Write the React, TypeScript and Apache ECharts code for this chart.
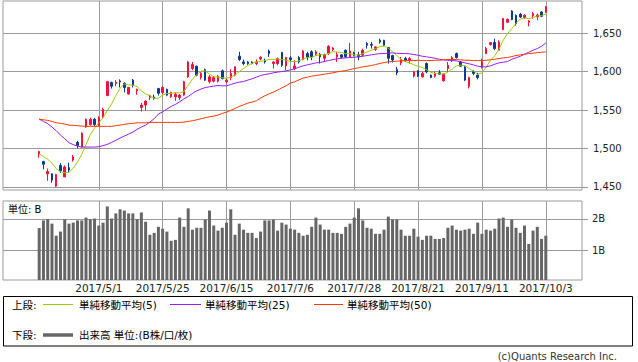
import React, { useEffect, useRef } from "react";
import * as echarts from "echarts";

const dates = [
  "2017/4/11","2017/4/12","2017/4/13","2017/4/14","2017/4/17","2017/4/18","2017/4/19","2017/4/20","2017/4/21","2017/4/24",
  "2017/4/25","2017/4/26","2017/4/27","2017/4/28","2017/5/1","2017/5/2","2017/5/8","2017/5/9","2017/5/10","2017/5/11",
  "2017/5/12","2017/5/15","2017/5/16","2017/5/17","2017/5/18","2017/5/19","2017/5/22","2017/5/23","2017/5/24","2017/5/25",
  "2017/5/26","2017/5/29","2017/5/30","2017/5/31","2017/6/1","2017/6/2","2017/6/5","2017/6/6","2017/6/7","2017/6/8",
  "2017/6/9","2017/6/12","2017/6/13","2017/6/14","2017/6/15","2017/6/16","2017/6/19","2017/6/20","2017/6/21","2017/6/22",
  "2017/6/23","2017/6/26","2017/6/27","2017/6/28","2017/6/29","2017/6/30","2017/7/3","2017/7/4","2017/7/5","2017/7/6",
  "2017/7/7","2017/7/10","2017/7/11","2017/7/12","2017/7/13","2017/7/14","2017/7/18","2017/7/19","2017/7/20","2017/7/21",
  "2017/7/24","2017/7/25","2017/7/26","2017/7/27","2017/7/28","2017/7/31","2017/8/1","2017/8/2","2017/8/3","2017/8/4",
  "2017/8/7","2017/8/8","2017/8/9","2017/8/10","2017/8/14","2017/8/15","2017/8/16","2017/8/17","2017/8/18","2017/8/21",
  "2017/8/22","2017/8/23","2017/8/24","2017/8/25","2017/8/28","2017/8/29","2017/8/30","2017/8/31","2017/9/1","2017/9/4",
  "2017/9/5","2017/9/6","2017/9/7","2017/9/8","2017/9/11","2017/9/12","2017/9/13","2017/9/14","2017/9/15","2017/9/19",
  "2017/9/20","2017/9/21","2017/9/22","2017/9/25","2017/9/26","2017/9/27","2017/9/28","2017/9/29","2017/10/2","2017/10/3",
];

const opens = [
  1493,1483,1467,1467,1451,1478,1463,1475,1485,1508,
  1502,1528,1531,1538,1530,1541,1569,1586,1584.5,1588,
  1585,1571,1589,1575,1553.5,1556.5,1566.5,1567,1578,1573,
  1577,1567.3,1567.3,1566.4,1569.5,1593.3,1604.1,1607.1,1592.4,1602.8,
  1586.9,1587.7,1587.7,1601.1,1586.9,1592.4,1595.5,1620.2,1612.7,1612.7,
  1612.5,1610.6,1616.6,1614.9,1627,1610.6,1610.6,1624.9,1607.4,1618,
  1604.1,1618.4,1615.8,1623.6,1625.9,1622.8,1622.8,1617.5,1623.6,1628.8,
  1619.3,1621.9,1627.9,1619.3,1624.5,1621.9,1621.5,1636.6,1635.5,1628.8,
  1640.9,1640.9,1631.4,1621,1602.8,1611.5,1617.1,1614.9,1594.2,1601.1,
  1593.3,1610.6,1595.5,1594.2,1598.5,1588.1,1604.1,1614.9,1623.6,1612.7,
  1606.3,1581.2,1599.8,1595.5,1606.3,1623.6,1635.3,1637.9,1627.9,1654.8,
  1664.3,1679,1673.4,1674.7,1670.3,1664.3,1672.9,1671.2,1677.7,1677.7,
];

const closes = [
  1496,1479.5,1470,1459,1466,1471,1476,1472,1489,1504,
  1520,1538,1538,1531,1540,1551,1587,1581,1586.5,1586.5,
  1579.5,1579.5,1582.5,1577,1556.5,1561.7,1568.6,1565.5,1572,1579.5,
  1569.5,1572.9,1570.7,1569.5,1586.9,1612.7,1609.3,1595.5,1597.6,1589,
  1593.3,1592.4,1594.2,1591.1,1589,1597.6,1606.3,1615.8,1610.6,1610.6,
  1610.6,1612.7,1618.4,1612.7,1623.6,1612.7,1617.1,1608.4,1618.4,1615.8,
  1607.4,1612.7,1627,1618.4,1619.3,1625.9,1619.3,1621.9,1633.1,1630.9,
  1622.3,1618.8,1619.3,1627,1621.5,1619.3,1627.9,1634.4,1634.4,1632.2,
  1638.7,1634.4,1617.5,1615.3,1598.5,1615.8,1614.9,1617.1,1599.8,1594.2,
  1597.6,1599.8,1592.4,1597.6,1596.8,1596.8,1608.4,1618.4,1618.4,1607.1,
  1589,1592.4,1597.6,1592.4,1612.7,1630.1,1637.9,1630.1,1638.7,1669.1,
  1668.2,1667.8,1662.6,1671.2,1673.4,1666,1675.5,1673.8,1672.1,1684.2,
];

const lows = [
  1488,1473,1458,1455.5,1450,1468.5,1463,1468.5,1483,1500,
  1501,1527,1530,1529,1529.5,1540,1568,1578,1581,1579.5,
  1573,1570,1579.5,1570,1548,1549.5,1563,1563.5,1569,1571,
  1568,1566,1562,1563,1568.5,1592,1602,1594,1589.8,1588,
  1584.7,1586,1586,1589.8,1584.7,1589,1594,1614,1608.4,1609,
  1609.5,1608.4,1614.9,1610.6,1619.3,1604.1,1608.4,1606.3,1601.9,1612.7,
  1601.9,1610.6,1614.9,1614.9,1614.9,1620.6,1610.6,1612.7,1621.9,1627,
  1612.7,1617,1618,1618.5,1620,1614.9,1619.3,1630.1,1630.1,1627,
  1636.6,1633,1610.6,1612,1595.5,1608.4,1612.7,1610.6,1592.4,1593,
  1592.4,1598,1591.5,1592.4,1595.5,1587,1599.8,1612.7,1617,1606.3,
  1588,1578.2,1595.5,1590,1604.1,1622.8,1634,1628,1627.9,1653.9,
  1663.5,1666.9,1660,1670,1669,1659,1669,1667,1671,1676.4,
];

const highs = [
  1497,1484,1474,1467.5,1467,1481,1478,1481.5,1491.5,1510,
  1521,1539,1540,1540,1542,1553,1588,1587,1589,1590,
  1586,1580,1590.5,1578,1559.5,1562.5,1570,1570,1579,1581,
  1578,1574,1573,1571,1588,1614,1612.7,1608,1599.8,1604,
  1595.5,1594,1595.5,1602.8,1591,1603.2,1607,1625.9,1615.8,1614,
  1613.5,1615.8,1620.2,1617,1628.8,1613.5,1618.4,1625.9,1619.3,1620.2,
  1614.9,1620.2,1628,1625.9,1627.9,1627.9,1624.5,1623.6,1634.4,1632.2,
  1625.9,1622.5,1629,1637.5,1626,1625.9,1630,1638.7,1638.7,1633.1,
  1643,1641.5,1632,1622,1606.3,1619.3,1619.3,1619.3,1601.1,1602,
  1599.8,1612,1596.5,1599.8,1601.9,1597.5,1612.7,1620.2,1625,1614,
  1607,1593.3,1601.9,1598.5,1617.1,1632.2,1638.5,1643,1640.9,1670,
  1669,1680,1674.5,1676.4,1674.7,1667,1677.7,1675.5,1678.5,1685.5,
];

const ma5 = [
  1493,1489.5,1486,1481,1474,1469.5,1468.5,1469,1474.5,1482.5,
  1492.5,1505,1518,1526.5,1533.5,1540,1549.5,1558,1569,1578.5,
  1584,1582.8,1582.5,1580.5,1575,1571,1568.5,1565.5,1565.5,1569.5,
  1571.5,1572,1572.5,1572.5,1574,1582.5,1590.5,1596,1600.5,1601,
  1597,1593.5,1593,1592,1591.5,1593,1595.6,1600,1604,1608,
  1611,1612.5,1613.5,1614.5,1616,1616,1616.5,1616,1615,1613.5,
  1613,1614,1616.5,1618.5,1618.5,1621,1622,1622,1623.6,1626,
  1625.5,1625,1623.5,1623.5,1622,1621.5,1623.5,1625.5,1628,1630,
  1632.5,1633.5,1630.5,1626,1621,1616,1613,1611.5,1609,1607,
  1605.5,1602.5,1599,1597.5,1597,1597,1599.5,1603.5,1607.5,1608.5,
  1608,1604,1601,1596.5,1598.5,1606,1614.5,1620.8,1629,1641,
  1649.5,1656,1663,1668.5,1670,1669,1670.5,1672.5,1673,1675,
];

const ma25 = [
  1538.3,1535.3,1532.3,1527.9,1523.2,1517.5,1512.8,1507.6,1505,1503.2,
  1501.9,1501.9,1501.9,1501.9,1502.4,1503.7,1505.4,1508,1510.6,1513.6,
  1516.2,1518.8,1521.4,1524.9,1527.9,1530.5,1534.4,1538.7,1544.8,1547.8,
  1551.3,1554.8,1557.4,1560.8,1564.7,1567.7,1571.6,1575.1,1577.3,1579.4,
  1580.3,1581.2,1582,1581.6,1581.6,1583.3,1585.1,1586.4,1587.2,1589,
  1590.7,1592.9,1595,1596.3,1597.2,1598.5,1599.4,1600.2,1601.1,1602.4,
  1603.7,1605.8,1607.6,1608.9,1610.2,1611.5,1611.9,1613.2,1614.5,1615.8,
  1616.7,1617.5,1618,1618.4,1618.8,1619.3,1620.1,1621,1621.9,1622.7,
  1623.6,1623.6,1624,1624.5,1624,1623.6,1623.6,1623.2,1622.3,1621.4,
  1620.1,1619.3,1618.4,1617.5,1616.2,1615.4,1614.9,1614.5,1614.1,1612.8,
  1611.5,1610.2,1608.9,1607.1,1606.3,1606.3,1607.6,1609.7,1611.5,1612.3,
  1613.2,1616.2,1618,1620.1,1622.7,1625.3,1627.9,1630.1,1633.1,1637.4,
];

const ma50 = [
  1538.3,1537.4,1536.6,1535.3,1533.5,1532.7,1531.8,1530.5,1530.1,1529.7,
  1529.2,1528.8,1528.8,1528.8,1528.8,1528.8,1528.8,1528.8,1529.7,1530.5,
  1531.4,1532.3,1532.7,1533.5,1533.5,1533.5,1534,1534,1534,1534,
  1534,1534,1534,1534,1534.4,1535.3,1536.1,1537.4,1538.7,1540,
  1541.3,1542.2,1543.5,1545.7,1547.4,1549.6,1552.2,1554.8,1556.9,1559.1,
  1560.4,1562.1,1565.6,1568.6,1571.2,1573.4,1576,1579,1581.6,1585.1,
  1586.8,1589.4,1591.6,1592.9,1594.2,1595,1595.9,1596.8,1597.6,1598.5,
  1599.8,1600.6,1601.5,1602.8,1604.1,1605,1606.3,1607.1,1608,1609.3,
  1610.6,1611.9,1612.8,1613.2,1613.6,1614.1,1614.5,1614.5,1614.5,1614.9,
  1614.5,1614.5,1614.5,1614.9,1614.9,1615.4,1615.8,1615.8,1615.8,1615.4,
  1614.9,1614.9,1614.5,1614.5,1614.5,1614.9,1615.4,1616.2,1617.1,1618,
  1618.4,1619.7,1621,1621.9,1622.7,1623.6,1624,1624.9,1625.3,1625.8,
];

const volumes = [
  1.71,1.95,1.99,1.85,1.47,1.60,1.99,1.85,1.88,1.95,
  1.95,2.04,1.99,2.01,1.79,1.88,2.39,2.01,2.17,2.30,
  2.26,2.17,2.17,1.99,2.20,1.91,1.50,1.56,1.75,1.69,
  1.60,1.31,1.34,2.04,1.75,2.33,1.66,1.72,1.72,1.98,
  2.26,1.79,1.63,1.72,1.88,2.30,1.50,1.85,1.66,1.56,
  1.56,1.40,1.60,1.95,1.95,1.98,1.63,1.88,1.82,1.69,
  1.66,1.56,1.47,1.50,1.75,2.04,1.82,1.66,1.66,1.56,
  1.56,1.53,1.75,1.85,2.04,2.33,1.95,1.72,1.69,1.53,
  1.53,1.66,2.07,1.98,1.98,1.66,1.47,1.47,1.69,1.44,
  1.34,1.47,1.47,1.37,1.37,1.40,1.72,1.79,1.66,1.63,
  1.66,1.69,1.53,1.88,1.53,1.66,1.63,1.69,2.01,2.04,
  1.75,1.98,1.72,1.56,1.79,1.21,1.63,1.75,1.37,1.47,
];

const gridDates = ["2017/5/1","2017/5/25","2017/6/15","2017/7/6","2017/7/28","2017/8/21","2017/9/11","2017/10/3"];
const priceTicks = [1450, 1500, 1550, 1600, 1650];
const volumeTicks = [1, 2];
const legendNames = ["単純移動平均(5)", "単純移動平均(25)", "単純移動平均(50)"];

const FONT = '"DejaVu Sans", "Noto Sans CJK JP", sans-serif';
const UP = "#f5103d";
const DOWN = "#0b3a94";
const GRID = "#9a9a9a";
const C5 = "#99cc00";
const C25 = "#9a1cf0";
const C50 = "#ff3a00";

export default function App() {
  const ref = useRef<HTMLDivElement>(null);
  useEffect(() => {
    const chart = echarts.init(ref.current!, null, { renderer: "svg" });
    const PRE = 8;
    const POST = 8;
    const cats = [
      ...Array.from({ length: PRE }, (_, i) => `pre${i}`),
      ...dates,
      ...Array.from({ length: POST }, (_, i) => `post${i}`),
    ];
    const pad = (arr: any[], blank: any) => [
      ...Array.from({ length: PRE }, () => blank),
      ...arr,
      ...Array.from({ length: POST }, () => blank),
    ];
    const candles = pad(
      dates.map((_, i) => [opens[i], closes[i], lows[i], highs[i]]),
      ["-", "-", "-", "-"]
    );
    const vLines = {
      silent: true,
      z: 1,
      symbol: ["none", "none"],
      label: { show: false },
      emphasis: { disabled: true },
      lineStyle: { color: GRID, width: 1, type: "solid" },
      data: gridDates.map((d) => ({ xAxis: d })),
    };
    const fmtPrice = (v: number) => String(Math.round(v)).replace(/\B(?=(\d{3})+(?!\d))/g, ",");
    const textStyle = (x: number, y: number, text: string, size = 10.5, align = "left", fill = "#000") => ({
      type: "text",
      x,
      y,
      silent: true,
      style: { text, fill, font: `${size}px ${FONT}`, align, verticalAlign: "middle" },
    });
    const legendLine = (x1: number, x2: number, y: number, color: string, w: number) => ({
      type: "line",
      silent: true,
      shape: { x1, y1: y, x2, y2: y },
      style: { stroke: color, lineWidth: w },
    });

    chart.setOption({
      animation: false,
      backgroundColor: "#fff",
      textStyle: { fontFamily: FONT },
      grid: [
        { left: 3, top: 1, width: 579, height: 189, show: true, borderColor: GRID, borderWidth: 1 },
        { left: 3, top: 201, width: 579, height: 79, show: true, borderColor: GRID, borderWidth: 1 },
      ],
      xAxis: [
        {
          type: "category",
          gridIndex: 0,
          data: cats,
          boundaryGap: true,
          axisLine: { show: false },
          axisTick: { show: false },
          axisLabel: { show: false },
          splitLine: { show: false },
        },
        {
          type: "category",
          gridIndex: 1,
          data: cats,
          boundaryGap: true,
          axisLine: { show: false },
          axisTick: { show: false },
          splitLine: { show: false },
          axisLabel: {
            show: true,
            interval: (_: number, value: string) => gridDates.includes(value),
            fontSize: 10.5,
            fontFamily: FONT,
            color: "#222",
            margin: 3,
          },
        },
      ],
      yAxis: [
        {
          type: "value",
          gridIndex: 0,
          position: "right",
          min: 1446,
          max: 1692,
          splitNumber: 5,
          axisLine: { show: false },
          axisTick: { show: true, inside: false, length: 6, lineStyle: { color: GRID }, customValues: priceTicks },
          axisLabel: {
            customValues: priceTicks,
            formatter: (v: number) => fmtPrice(v),
            fontSize: 10,
            fontFamily: FONT,
            color: "#222",
            margin: 11,
          },
          splitLine: { show: true, lineStyle: { color: GRID, width: 1 } },
        },
        {
          type: "value",
          gridIndex: 1,
          position: "right",
          min: 0.08,
          max: 2.56,
          splitNumber: 2,
          axisLine: { show: false },
          axisTick: { show: true, inside: false, length: 6, lineStyle: { color: GRID }, customValues: volumeTicks },
          axisLabel: {
            customValues: volumeTicks,
            formatter: (v: number) => `${Math.round(v)}B`,
            fontSize: 10,
            fontFamily: FONT,
            color: "#222",
            margin: 10,
          },
          splitLine: { show: true, lineStyle: { color: GRID, width: 1 } },
        },
      ],
      series: [
        {
          type: "candlestick",
          xAxisIndex: 0,
          yAxisIndex: 0,
          data: candles,
          barWidth: 2,
          z: 3,
          itemStyle: {
            color: UP,
            color0: DOWN,
            borderColor: UP,
            borderColor0: DOWN,
            borderWidth: 1,
          },
          markLine: vLines,
        },
        {
          type: "line",
          name: legendNames[0],
          xAxisIndex: 0,
          yAxisIndex: 0,
          data: pad(ma5, "-"),
          symbol: "none",
          z: 4,
          lineStyle: { color: C5, width: 1 },
        },
        {
          type: "line",
          name: legendNames[1],
          xAxisIndex: 0,
          yAxisIndex: 0,
          data: pad(ma25, "-"),
          symbol: "none",
          z: 4,
          lineStyle: { color: C25, width: 1 },
        },
        {
          type: "line",
          name: legendNames[2],
          xAxisIndex: 0,
          yAxisIndex: 0,
          data: pad(ma50, "-"),
          symbol: "none",
          z: 4,
          lineStyle: { color: C50, width: 1 },
        },
        {
          type: "bar",
          name: "出来高",
          xAxisIndex: 1,
          yAxisIndex: 1,
          data: pad(volumes, "-"),
          barWidth: 3,
          itemStyle: { color: "#666" },
          markLine: vLines,
        },
      ],
      graphic: [
        textStyle(8, 209.5, "単位: B", 10),
        {
          type: "rect",
          silent: true,
          shape: { x: 3.5, y: 296.5, width: 629, height: 49.5 },
          style: { fill: "#fff", stroke: "#000", lineWidth: 1 },
        },
        textStyle(12, 304.5, "上段:"),
        legendLine(43, 73, 304.5, C5, 1),
        textStyle(79, 304.5, legendNames[0]),
        legendLine(170, 201, 304.5, C25, 1),
        textStyle(205, 304.5, legendNames[1]),
        legendLine(314, 343, 304.5, C50, 1),
        textStyle(347, 304.5, legendNames[2]),
        textStyle(12, 335, "下段:"),
        legendLine(43, 73, 335, "#666", 3.5),
        textStyle(79, 335, "出来高 単位:(B株/口/枚)"),
        textStyle(617, 356, "(c)Quants Research Inc.", 10, "right", "#333"),
      ],
    });
    return () => chart.dispose();
  }, []);
  return <div ref={ref} style={{ position: "fixed", left: 0, top: 0, width: 638, height: 362 }} />;
}
